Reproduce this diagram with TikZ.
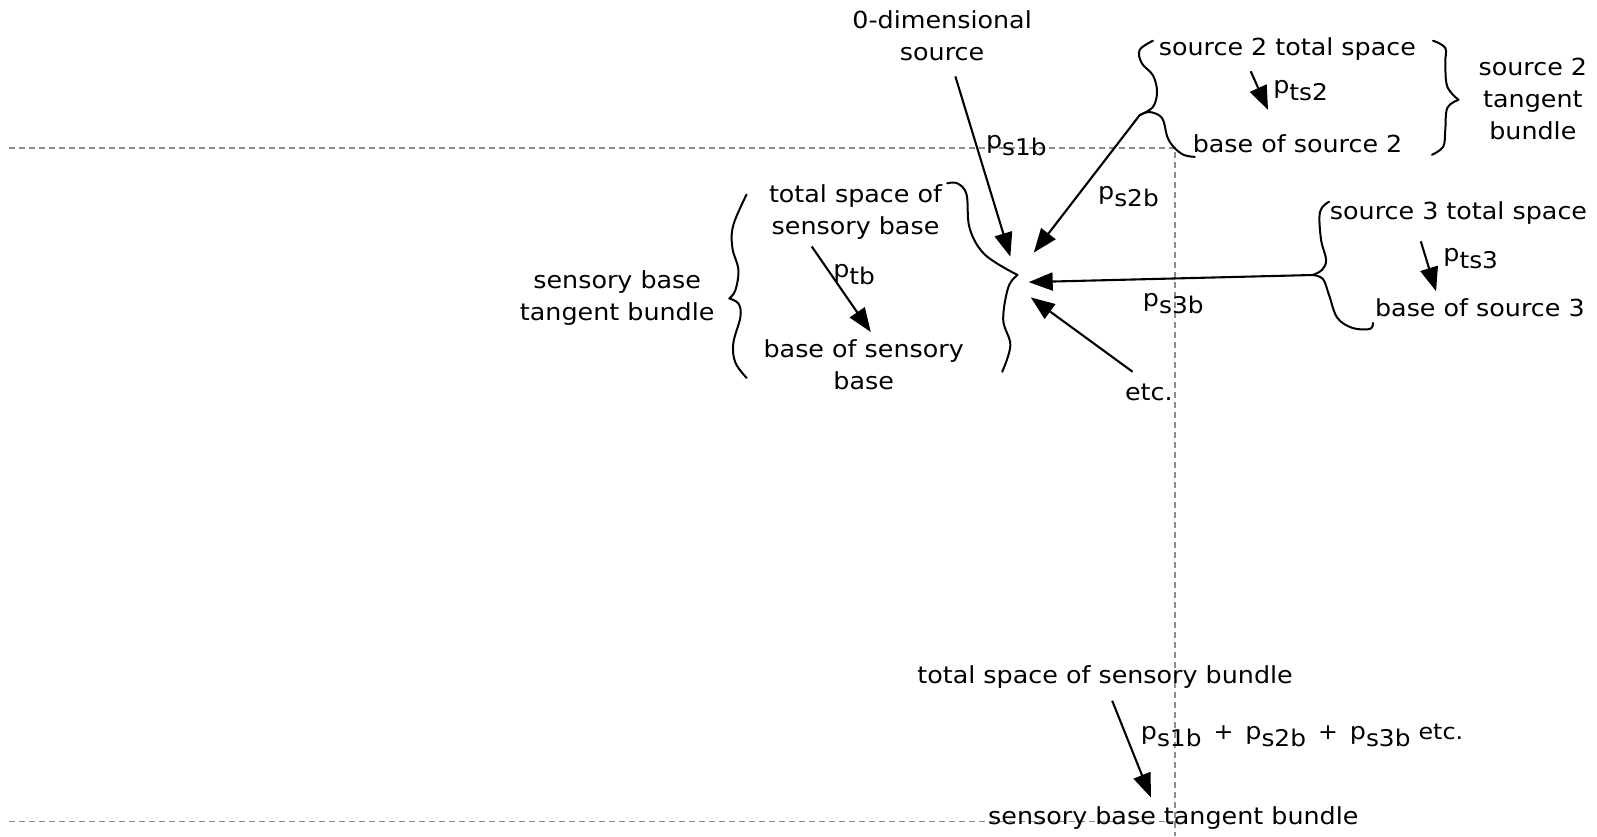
\documentclass[tikz,border=0pt]{standalone}
\usepackage{fontspec}
\setmainfont{DejaVu Sans}[FakeStretch=1.08]
\usetikzlibrary{arrows.meta}
% projection names: a "p" followed by a lowered subscript
\newcommand\lowsub[1]{\raisebox{-7pt}{\fontsize{23}{23}\selectfont #1}}
\newcommand\smalltxt[1]{{\fontsize{22}{22}\selectfont #1}}
\begin{document}
\begin{tikzpicture}[x=1.0185pt,y=-1.0185pt,
  txt/.style={inner sep=0pt, align=center, font=\fontsize{23.5}{32}\selectfont},
  lbl/.style={inner sep=0pt, anchor=base west, font=\fontsize{23.5}{32}\selectfont},
  map/.style={line width=2.1pt, -{Triangle[length=24pt,width=18pt]}},
  brace/.style={line width=2pt, line cap=round, line join=round},
  guide/.style={black!45, line width=1.1pt, dash pattern=on 6pt off 4pt}]
\useasboundingbox (0,0) rectangle (1568,821);

% page guides
\coordinate (gtl) at (8.8,145.3);
\coordinate (gtr) at (1153.6,145.3);
\coordinate (gbr) at (1153.6,821);
\coordinate (gbl) at (8.8,807);
\coordinate (gbm) at (1153.6,807);
\draw[guide] (gtl) -- (gtr) -- (gbr);
\draw[guide] (gbl) -- (gbm);

% texts
\node[txt] (zero) at (925,35) {0-dimensional\\source};
\node[txt] (s2tot) at (1264,48) {source 2 total space};
\node[txt] (s2base) at (1274,141) {base of source 2};
\node[txt] (s2tb) at (1505,97) {source 2\\tangent\\bundle};
\node[txt] (tsb) at (840,208) {total space of\\sensory base};
\node[txt] (sbtb) at (606,293) {sensory base\\tangent bundle};
\node[txt] (bsb) at (848,358) {base of sensory\\base};
\node[txt] (s3tot) at (1432,209) {source 3 total space};
\node[txt] (s3base) at (1453,302) {base of source 3};
\node[txt] (etc) at (1128,385) {etc.};
\node[txt] (tssb) at (1085,665) {total space of sensory bundle};
\node[txt] (sbtbb) at (1152,803) {sensory base tangent bundle};

% projection labels
\node[lbl] (ps1b) at (968,146) {p\lowsub{s1b}};
\node[lbl] (ps2b) at (1078,196) {p\lowsub{s2b}};
\node[lbl] (pts2) at (1250,92) {p\lowsub{ts2}};
\node[lbl] (ptb) at (818,272) {p\lowsub{tb}};
\node[lbl] (pts3) at (1417,257) {p\lowsub{ts3}};
\node[lbl] (ps3b) at (1122,301) {p\lowsub{s3b}};
\node[lbl] (psum) at (1120,726) {p\lowsub{s1b}\, \smalltxt{+}\, p\lowsub{s2b}\, \smalltxt{+}\, p\lowsub{s3b} \smalltxt{etc.}};

% arrow end points
\coordinate (a1s) at (938,75);   \coordinate (a1e) at (992,252);
\coordinate (cusp2) at (1119,113); \coordinate (a2e) at (1015,248);
\coordinate (cusp3) at (1289,270); \coordinate (a3e) at (1010,277);
\coordinate (a4s) at (1112,365); \coordinate (a4e) at (1012,292);
\coordinate (t2s) at (1228,70);  \coordinate (t2e) at (1245,108);
\coordinate (t3s) at (1395,237); \coordinate (t3e) at (1410,286);
\coordinate (tbs) at (797,242);  \coordinate (tbe) at (855,326);
\coordinate (bs) at (1092,688);  \coordinate (be) at (1130,783);
\coordinate (hub) at (999,270);

% arrows
\draw[map] (a1s) -- (a1e);
\draw[map] (cusp2) -- (a2e);
\draw[map] (cusp3) -- (a3e);
\draw[map] (a4s) -- (a4e);
\draw[map] (t2s) -- (t2e);
\draw[map] (t3s) -- (t3e);
\draw[map] (tbs) -- (tbe);
\draw[map] (bs) -- (be);

% hand-drawn braces
% central brace
\draw[brace] plot[smooth, tension=0.6] coordinates {(930,180) (940,180) (949,191) (952,224) (967,250) (hub)};
\draw[brace] plot[smooth, tension=0.6] coordinates {(hub) (990,282) (985,314) (992,339) (984,365)};
% source 2 brace
\draw[brace] plot[smooth, tension=0.6] coordinates {(1132,40) (1119,49) (1121,62) (1132,74) (1136,90) (1132,105) (cusp2)};
\draw[brace] plot[smooth, tension=0.6] coordinates {(cusp2) (1129,110) (1141,116) (1146,134) (1152,144) (1162,152) (1173,154)};
% source 2 tangent bundle brace
\draw[brace] plot[smooth, tension=0.6] coordinates {(1407,40) (1419,47) (1419,62) (1421,85) (1432,98)};
\draw[brace] plot[smooth, tension=0.6] coordinates {(1432,98) (1421,106) (1419,128) (1417,144) (1406,152)};
% source 3 brace
\draw[brace] plot[smooth, tension=0.6] coordinates {(1305,198) (1296,208) (1297,235) (1302,255) (1298,265) (cusp3)};
\draw[brace] plot[smooth, tension=0.6] coordinates {(cusp3) (1299,274) (1305,290) (1313,312) (1328,322) (1345,323) (1348,317)};
% sensory base tangent bundle brace
\draw[brace] plot[smooth, tension=0.6] coordinates {(733,191) (720,221) (719,243) (725,265) (722,285) (716,293)};
\draw[brace] plot[smooth, tension=0.6] coordinates {(716,293) (725,298) (727,311) (720,337) (722,356) (733,371)};
\end{tikzpicture}
\end{document}
